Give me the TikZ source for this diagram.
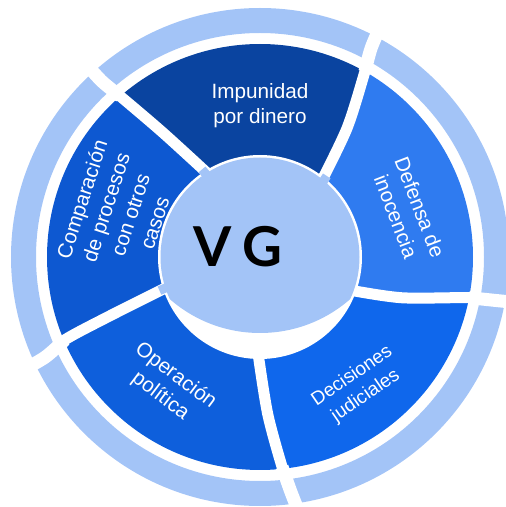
\documentclass[tikz,border=0pt]{standalone}
\usepackage{fontspec}
\setmainfont{Liberation Sans}
\newfontfamily\vgfont{Lato}
\definecolor{lightb}{HTML}{A3C4F7}
\definecolor{navy}{HTML}{0A44A0}
\definecolor{segright}{HTML}{2F7BF0}
\definecolor{segbr}{HTML}{0F67EC}
\definecolor{segbl}{HTML}{0E5FDC}
\definecolor{segleft}{HTML}{0D58D1}
\tikzset{
  gapline/.style={draw=white, line width=11pt},
  ringgap/.style={draw=white, line width=13pt},
  lbl/.style={text=white, align=center, font=\fontsize{20.7}{25.5}\selectfont, inner sep=0pt},
}
\begin{document}
\begin{tikzpicture}[x=1pt,y=1pt]
\useasboundingbox (0,0) rectangle (506,507);
\begin{scope}[shift={(260,250)}]
  % outer ring
  \draw[lightb, line width=25pt] (0,0) circle (236.5);
  % segments
  \begin{scope}
    \clip (0,0) circle (213);
    \fill[navy] (0,0) -- plot[smooth] coordinates {(51:98) (56:156) (60.5:213) (62:237) (62.5:265)}
      arc[start angle=62.5, end angle=132, radius=265]
      -- plot[smooth] coordinates {(132:265) (132:237) (131:213) (128:158) (122:98)} -- cycle;
    \fill[segleft] (0,0) -- plot[smooth] coordinates {(122:98) (128:158) (131:213) (132:237) (132:265)}
      arc[start angle=132, end angle=205.5, radius=265]
      -- plot[smooth] coordinates {(205.5:265) (205:237) (203:212) (201.5:164) (198:98)} -- cycle;
    \fill[segbl] (0,0) -- plot[smooth] coordinates {(198:98) (201.5:164) (203:212) (205:237) (205.5:265)}
      arc[start angle=205.5, end angle=279, radius=265]
      -- plot[smooth] coordinates {(279:265) (277.5:237) (276:211) (272.8:157) (269:98)} -- cycle;
    \fill[segbr] (0,0) -- plot[smooth] coordinates {(269:98) (272.8:157) (276:211) (277.5:237) (279:265)}
      arc[start angle=279, end angle=350, radius=265]
      -- plot[smooth] coordinates {(350:265) (349.5:237) (349:213) (344:148) (340:98)} -- cycle;
    \fill[segright] (0,0) -- plot[smooth] coordinates {(340:98) (344:148) (349:213) (349.5:237) (350:265)}
      arc[start angle=-10, end angle=62.5, radius=265]
      -- plot[smooth] coordinates {(62.5:265) (62:237) (60.5:213) (56:156) (51:98)} -- cycle;
  \end{scope}
  % gaps
  \draw[gapline] plot[smooth] coordinates {(51:98) (56:156) (60.5:213) (62:237) (62.5:265)};
  \draw[gapline] plot[smooth] coordinates {(122:98) (128:158) (131:213) (132:237) (132:265)};
  \draw[gapline] plot[smooth] coordinates {(198:98) (201.5:164) (203:212) (205:237) (205.5:265)};
  \draw[gapline] plot[smooth] coordinates {(269:98) (272.8:157) (276:211) (277.5:237) (279:265)};
  \draw[gapline] plot[smooth] coordinates {(340:98) (344:148) (349:213) (349.5:237) (350:265)};
  \draw[ringgap] plot[smooth] coordinates {(60.5:213) (62:237) (62.5:265)};
  \draw[ringgap] plot[smooth] coordinates {(131:213) (132:237) (132:265)};
  \draw[ringgap] plot[smooth] coordinates {(203:212) (205:237) (205.5:265)};
  \draw[ringgap] plot[smooth] coordinates {(276:211) (277.5:237) (279:265)};
  \draw[ringgap] plot[smooth] coordinates {(349:213) (349.5:237) (350:265)};
  % centre
  \fill[white] (0,0) circle (102);
  \draw[lightb, line width=9pt] (50:97) -- (50.5:105);
  \draw[lightb, line width=9pt] (123:97) -- (123.5:105);
  \draw[lightb, line width=9pt] (198:97) -- (198.5:106);
  \begin{scope}
    \clip (0,0) circle (99.5);
    \fill[lightb] (0,61) circle (137);
  \end{scope}
\end{scope}
\node[font=\vgfont\bfseries\fontsize{55}{60}\selectfont, anchor=base, inner sep=0pt] (vg) at (238,240) {V\hspace{10pt}G};
\node[lbl] (imp) at (260,401.5) {Impunidad\\por dinero};
\node[lbl, rotate=-69] (def) at (408,295) {Defensa de\\inocencia};
\node[lbl, rotate=34.5, font=\fontsize{19}{24}\selectfont] (dec) at (359,121) {Decisiones\\judiciales};
\node[lbl, rotate=-37] (ope) at (168,121) {Operación\\política};
\node[lbl, rotate=72] (com) at (118,296) {Comparación\\de procesos\\con otros\\casos};
\end{tikzpicture}
\end{document}
